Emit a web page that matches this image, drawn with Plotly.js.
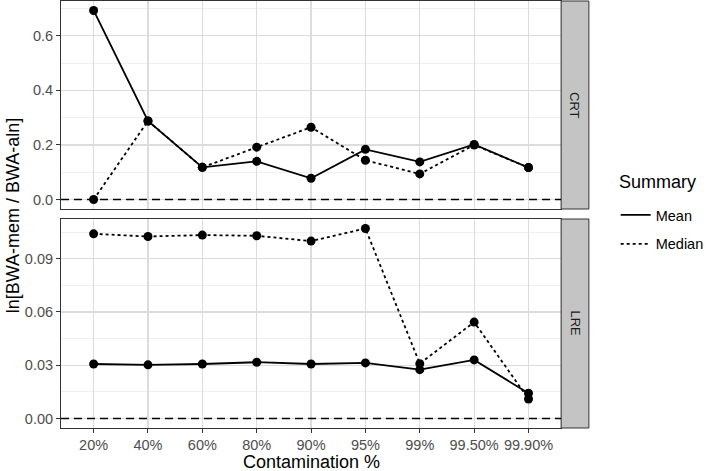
<!DOCTYPE html>
<html>
<head>
<meta charset="utf-8">
<script src="https://cdn.plot.ly/plotly-3.0.1.min.js"></script>
<style>
  html, body { margin: 0; padding: 0; background: #fff; }
  #chart { width: 709px; height: 471px; }
</style>
</head>
<body>
<div id="chart"></div>
<script>
// contamination levels (x categories)
const levels = ["20%", "40%", "60%", "80%", "90%", "95%", "99%", "99.50%", "99.90%"];

// CRT panel
const crtMean   = [0.693, 0.288, 0.118, 0.140, 0.078, 0.184, 0.138, 0.202, 0.117];
const crtMedian = [0.000, 0.288, 0.118, 0.192, 0.265, 0.144, 0.094, 0.200, 0.117];

// LRE panel
const lreMean   = [0.0307, 0.0302, 0.0307, 0.0317, 0.0307, 0.0313, 0.0275, 0.0330, 0.0142];
const lreMedian = [0.1040, 0.1025, 0.1033, 0.1029, 0.0999, 0.1070, 0.0309, 0.0543, 0.0110];

const panels = ["CRT", "LRE"];
const summaries = ["Mean", "Median"];

// ggplot style 5% expansion of the data range
const expand = (arrs) => {
    let all = [].concat(...arrs, [0]);
    let lo = Math.min(...all), hi = Math.max(...all);
    let pad = (hi - lo) * 0.05;
    return [lo - pad, hi + pad];
};

const lineTrace = (y, xa, ya, dash, name, legend) => ({
    name: name,
    x: levels,
    y: y,
    xaxis: xa,
    yaxis: ya,
    type: "scatter",
    mode: "lines",
    line: { color: "black", width: 1.8, dash: dash },
    legendgroup: name,
    showlegend: legend,
    hoverinfo: "skip",
});

const pointTrace = (y, xa, ya) => ({
    x: levels,
    y: y,
    xaxis: xa,
    yaxis: ya,
    type: "scatter",
    mode: "markers",
    marker: { color: "black", size: 9 },
    showlegend: false,
});

let series = [
    lineTrace(crtMean, "x", "y", "solid", summaries[0], true),
    lineTrace(crtMedian, "x", "y", "dot", summaries[1], true),
    lineTrace(lreMean, "x2", "y2", "solid", summaries[0], false),
    lineTrace(lreMedian, "x2", "y2", "dot", summaries[1], false),
    pointTrace(crtMean, "x", "y"),
    pointTrace(crtMedian, "x", "y"),
    pointTrace(lreMean, "x2", "y2"),
    pointTrace(lreMedian, "x2", "y2"),
];

const fam = "Liberation Sans, Arial, sans-serif";
const border = "#333333";
const grid = "#DCDCDC";
const tickFont = { family: fam, size: 14.5, color: "#4D4D4D" };

const xBase = {
    type: "category",
    range: [-0.6, levels.length - 0.4],
    domain: [0, 504 / 648],
    showgrid: true,
    gridcolor: grid,
    gridwidth: 1.2,
    zeroline: false,
    showline: true,
    mirror: true,
    linecolor: border,
    linewidth: 1,
    ticks: "outside",
    ticklen: 4,
    tickcolor: border,
    tickfont: tickFont,
    fixedrange: true,
};

const yBase = {
    showgrid: true,
    gridcolor: grid,
    gridwidth: 1.2,
    zeroline: false,
    showline: true,
    mirror: true,
    linecolor: border,
    linewidth: 1,
    ticks: "outside",
    ticklen: 4,
    tickcolor: border,
    tickfont: tickFont,
    fixedrange: true,
};

// strips on the right side of each panel
let shapes = [];
let annotations = [];
["y", "y2"].forEach((ya, i) => {
    let xa = i === 0 ? "x" : "x2";
    shapes.push({
        type: "rect", xref: xa + " domain", yref: ya + " domain",
        x0: 1, x1: 1 + 28 / 504, y0: 0, y1: 1,
        fillcolor: "#C4C4C4", line: { color: border, width: 1 }, layer: "above",
    });
    shapes.push({
        type: "line", xref: xa + " domain", yref: ya,
        x0: 0, x1: 1, y0: 0, y1: 0,
        line: { color: "black", width: 1.6, dash: "8px,5px" }, layer: "above",
    });
    annotations.push({
        text: panels[i], xref: xa + " domain", yref: ya + " domain",
        x: 1 + 14 / 504, y: 0.5, showarrow: false, textangle: 90,
        xanchor: "center", yanchor: "middle",
        font: { family: fam, size: 13, color: "#1A1A1A" },
    });
});

annotations.push({
    text: "ln[BWA-mem / BWA-aln]", xref: "paper", yref: "paper",
    x: (13 - 61) / 648, y: (428 - 215) / 427, showarrow: false, textangle: -90,
    xanchor: "center", yanchor: "middle",
    font: { family: fam, size: 18, color: "black" },
});
annotations.push({
    text: "Contamination %", xref: "x2 domain", yref: "paper",
    x: 0.5, y: (428 - 462) / 427, showarrow: false,
    xanchor: "center", yanchor: "middle",
    font: { family: fam, size: 18, color: "black" },
});
annotations.push({
    text: "Summary", xref: "paper", yref: "paper",
    x: (621 - 61) / 648, y: (428 - 182) / 427, showarrow: false,
    xanchor: "left", yanchor: "middle",
    font: { family: fam, size: 18, color: "black" },
});

let layout = {
    width: 709,
    height: 471,
    margin: { l: 61, r: 0, t: 1, b: 43 },
    paper_bgcolor: "white",
    plot_bgcolor: "white",
    showlegend: true,
    legend: {
        x: (620 - 61) / 648,
        y: (428 - 199) / 427,
        xanchor: "left",
        yanchor: "top",
        font: { family: fam, size: 14.5, color: "black" },
        traceorder: "grouped",
        tracegroupgap: 7,
        itemwidth: 30,
        bgcolor: "rgba(0,0,0,0)",
    },
    xaxis: Object.assign({}, xBase, { anchor: "y", showticklabels: false, ticks: "", matches: "x2" }),
    xaxis2: Object.assign({}, xBase, { anchor: "y2" }),
    yaxis: Object.assign({}, yBase, {
        domain: [(428 - 209) / 427, 1],
        anchor: "x",
        range: expand([crtMean, crtMedian]),
        tick0: 0, dtick: 0.2, tickformat: ".1f",
        minor: { dtick: 0.1, showgrid: true, gridcolor: "#ECECEC", gridwidth: 0.8 },
    }),
    yaxis2: Object.assign({}, yBase, {
        domain: [0, (428 - 219) / 427],
        anchor: "x2",
        range: expand([lreMean, lreMedian]),
        tick0: 0, dtick: 0.03, tickformat: ".2f",
        minor: { dtick: 0.015, showgrid: true, gridcolor: "#ECECEC", gridwidth: 0.8 },
    }),
    shapes: shapes,
    annotations: annotations,
};

Plotly.newPlot("chart", series, layout, { responsive: false, displayModeBar: false, staticPlot: true });
</script>
</body>
</html>
